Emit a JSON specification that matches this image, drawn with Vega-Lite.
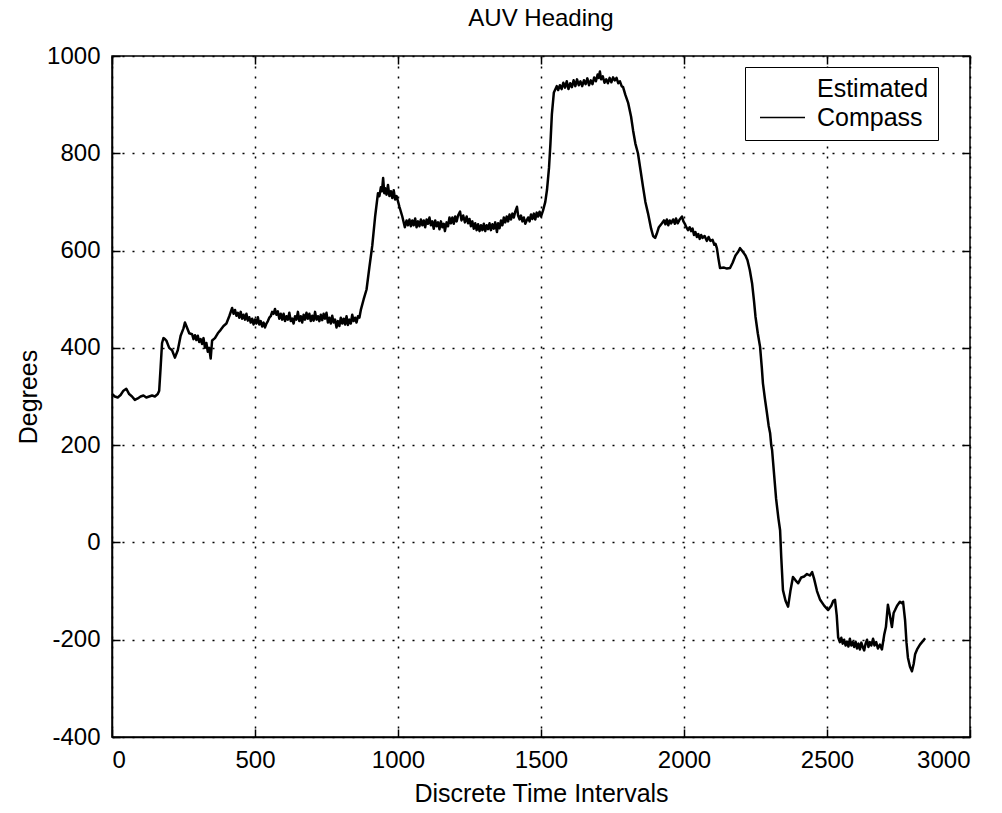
{
  "$schema": "https://vega.github.io/schema/vega-lite/v6.json",
  "width": 858,
  "height": 681,
  "autosize": {"type": "none"},
  "padding": {"left": 112, "top": 56, "right": 32, "bottom": 76},
  "background": "white",
  "config": {
    "font": "Liberation Sans",
    "view": {"stroke": "black", "strokeWidth": 1.5},
    "axis": {"labelFont": "Liberation Sans", "titleFont": "Liberation Sans", "labelColor": "black", "titleColor": "black", "titleFontWeight": "normal"}
  },
  "title": {"text": "AUV Heading", "fontSize": 24, "fontWeight": "normal", "color": "black", "offset": 13, "anchor": "middle"},
  "data": {"values": [
    {"t":0,"deg":305},{"t":10,"deg":300},{"t":20,"deg":298},{"t":30,"deg":303},{"t":40,"deg":312},{"t":50,"deg":316},{"t":60,"deg":305},{"t":70,"deg":300},{"t":80,"deg":293},{"t":90,"deg":296},{"t":100,"deg":300},{"t":110,"deg":302},{"t":120,"deg":298},{"t":130,"deg":300},{"t":140,"deg":302},{"t":150,"deg":300},{"t":160,"deg":305},{"t":165,"deg":312},
    {"t":170,"deg":360},{"t":175,"deg":410},{"t":180,"deg":420},{"t":185,"deg":418},{"t":190,"deg":415},{"t":200,"deg":400},{"t":210,"deg":395},{"t":220,"deg":380},{"t":230,"deg":395},{"t":240,"deg":425},{"t":250,"deg":440},{"t":255,"deg":452},{"t":260,"deg":445},{"t":270,"deg":430},{"t":280,"deg":428},{"t":285,"deg":418},{"t":290,"deg":426},{"t":295,"deg":416},{"t":300,"deg":425},{"t":305,"deg":412},{"t":310,"deg":418},{"t":315,"deg":408},{"t":320,"deg":420},{"t":325,"deg":400},{"t":330,"deg":410},{"t":335,"deg":392},{"t":340,"deg":400},{"t":345,"deg":378},{"t":350,"deg":415},{"t":360,"deg":420},{"t":370,"deg":430},{"t":380,"deg":437},{"t":390,"deg":445},{"t":400,"deg":450},{"t":410,"deg":465},
    {"t":420,"deg":482},{"t":425,"deg":470},{"t":430,"deg":478},{"t":435,"deg":466},{"t":440,"deg":472},{"t":445,"deg":462},{"t":450,"deg":474},{"t":455,"deg":460},{"t":460,"deg":468},{"t":465,"deg":458},{"t":470,"deg":470},{"t":475,"deg":456},{"t":480,"deg":463},{"t":485,"deg":452},{"t":490,"deg":460},{"t":495,"deg":448},{"t":500,"deg":458},{"t":505,"deg":450},{"t":510,"deg":463},{"t":515,"deg":448},{"t":520,"deg":455},{"t":525,"deg":444},{"t":530,"deg":452},{"t":535,"deg":442},{"t":540,"deg":450},{"t":545,"deg":455},{"t":550,"deg":462},{"t":555,"deg":465},{"t":560,"deg":474},{"t":565,"deg":470},{"t":570,"deg":480},{"t":575,"deg":468},{"t":580,"deg":475},{"t":585,"deg":460},{"t":590,"deg":470},{"t":595,"deg":458},{"t":600,"deg":470},{"t":605,"deg":455},{"t":610,"deg":465},{"t":615,"deg":458},{"t":620,"deg":472},{"t":625,"deg":455},{"t":630,"deg":460},{"t":635,"deg":450},{"t":640,"deg":465},{"t":645,"deg":458},{"t":650,"deg":474},{"t":655,"deg":455},{"t":660,"deg":465},{"t":665,"deg":452},{"t":670,"deg":468},{"t":675,"deg":458},{"t":680,"deg":472},{"t":685,"deg":460},{"t":690,"deg":470},{"t":695,"deg":455},{"t":700,"deg":466},{"t":705,"deg":456},{"t":710,"deg":474},{"t":715,"deg":458},{"t":720,"deg":465},{"t":725,"deg":455},{"t":730,"deg":468},{"t":735,"deg":457},{"t":740,"deg":470},{"t":745,"deg":460},{"t":750,"deg":472},{"t":755,"deg":452},{"t":760,"deg":462},{"t":765,"deg":450},{"t":770,"deg":466},{"t":775,"deg":452},{"t":780,"deg":458},{"t":785,"deg":442},{"t":790,"deg":455},{"t":795,"deg":445},{"t":800,"deg":462},{"t":805,"deg":450},{"t":810,"deg":460},{"t":815,"deg":448},{"t":820,"deg":465},{"t":825,"deg":447},{"t":830,"deg":458},{"t":835,"deg":450},{"t":840,"deg":468},{"t":845,"deg":455},{"t":850,"deg":462},{"t":855,"deg":452},{"t":860,"deg":465},{"t":865,"deg":462},{"t":870,"deg":478},
    {"t":880,"deg":500},{"t":890,"deg":520},{"t":900,"deg":566},{"t":910,"deg":610},{"t":920,"deg":670},{"t":930,"deg":718},{"t":935,"deg":712},{"t":940,"deg":730},{"t":944,"deg":722},{"t":948,"deg":749},{"t":952,"deg":718},{"t":955,"deg":728},{"t":960,"deg":715},{"t":965,"deg":735},{"t":970,"deg":712},{"t":975,"deg":722},{"t":980,"deg":708},{"t":985,"deg":724},{"t":990,"deg":705},{"t":995,"deg":712},{"t":1005,"deg":690},{"t":1015,"deg":670},
    {"t":1024,"deg":648},{"t":1030,"deg":662},{"t":1035,"deg":652},{"t":1040,"deg":664},{"t":1045,"deg":650},{"t":1050,"deg":662},{"t":1055,"deg":652},{"t":1060,"deg":666},{"t":1065,"deg":648},{"t":1070,"deg":660},{"t":1075,"deg":650},{"t":1080,"deg":664},{"t":1085,"deg":652},{"t":1090,"deg":662},{"t":1095,"deg":648},{"t":1100,"deg":664},{"t":1105,"deg":655},{"t":1110,"deg":668},{"t":1115,"deg":652},{"t":1120,"deg":660},{"t":1125,"deg":645},{"t":1130,"deg":662},{"t":1135,"deg":650},{"t":1140,"deg":658},{"t":1145,"deg":644},{"t":1150,"deg":660},{"t":1155,"deg":648},{"t":1160,"deg":655},{"t":1164,"deg":640},{"t":1170,"deg":658},{"t":1175,"deg":650},{"t":1180,"deg":668},{"t":1185,"deg":656},{"t":1190,"deg":668},{"t":1195,"deg":655},{"t":1200,"deg":670},{"t":1205,"deg":660},{"t":1210,"deg":672},{"t":1217,"deg":680},{"t":1222,"deg":662},{"t":1228,"deg":672},{"t":1234,"deg":658},{"t":1240,"deg":670},{"t":1245,"deg":656},{"t":1250,"deg":665},{"t":1255,"deg":650},{"t":1260,"deg":660},{"t":1265,"deg":645},{"t":1270,"deg":656},{"t":1275,"deg":642},{"t":1280,"deg":654},{"t":1285,"deg":640},{"t":1290,"deg":652},{"t":1295,"deg":642},{"t":1300,"deg":655},{"t":1305,"deg":640},{"t":1310,"deg":652},{"t":1315,"deg":644},{"t":1320,"deg":656},{"t":1325,"deg":642},{"t":1330,"deg":654},{"t":1335,"deg":645},{"t":1340,"deg":658},{"t":1346,"deg":638},{"t":1350,"deg":656},{"t":1355,"deg":646},{"t":1360,"deg":662},{"t":1365,"deg":652},{"t":1370,"deg":668},{"t":1375,"deg":658},{"t":1380,"deg":670},{"t":1385,"deg":660},{"t":1390,"deg":674},{"t":1395,"deg":664},{"t":1400,"deg":676},{"t":1405,"deg":668},{"t":1410,"deg":680},{"t":1416,"deg":690},{"t":1420,"deg":672},{"t":1425,"deg":664},{"t":1430,"deg":672},{"t":1435,"deg":660},{"t":1440,"deg":668},{"t":1445,"deg":655},{"t":1450,"deg":662},{"t":1455,"deg":668},{"t":1460,"deg":660},{"t":1465,"deg":674},{"t":1470,"deg":665},{"t":1475,"deg":676},{"t":1480,"deg":664},{"t":1485,"deg":678},{"t":1490,"deg":670},{"t":1495,"deg":680},{"t":1500,"deg":670},{"t":1507,"deg":682},
    {"t":1515,"deg":700},{"t":1521,"deg":725},{"t":1528,"deg":770},{"t":1533,"deg":820},{"t":1538,"deg":880},{"t":1545,"deg":925},
    {"t":1555,"deg":938},{"t":1560,"deg":930},{"t":1566,"deg":940},{"t":1572,"deg":932},{"t":1578,"deg":945},{"t":1584,"deg":935},{"t":1590,"deg":948},{"t":1596,"deg":932},{"t":1602,"deg":944},{"t":1608,"deg":936},{"t":1614,"deg":950},{"t":1620,"deg":938},{"t":1626,"deg":952},{"t":1632,"deg":940},{"t":1638,"deg":948},{"t":1644,"deg":938},{"t":1650,"deg":950},{"t":1656,"deg":942},{"t":1662,"deg":954},{"t":1668,"deg":940},{"t":1674,"deg":950},{"t":1680,"deg":942},{"t":1686,"deg":956},{"t":1692,"deg":948},{"t":1698,"deg":962},{"t":1702,"deg":955},{"t":1706,"deg":968},{"t":1710,"deg":952},{"t":1716,"deg":958},{"t":1722,"deg":945},{"t":1728,"deg":952},{"t":1734,"deg":944},{"t":1740,"deg":955},{"t":1746,"deg":946},{"t":1752,"deg":956},{"t":1758,"deg":950},{"t":1764,"deg":955},{"t":1770,"deg":944},{"t":1776,"deg":948},{"t":1782,"deg":938},{"t":1787,"deg":936},
    {"t":1795,"deg":920},{"t":1805,"deg":903},{"t":1815,"deg":875},{"t":1822,"deg":847},{"t":1830,"deg":820},{"t":1839,"deg":800},{"t":1848,"deg":765},{"t":1857,"deg":730},{"t":1865,"deg":700},{"t":1874,"deg":677},{"t":1885,"deg":645},{"t":1892,"deg":630},{"t":1899,"deg":626},{"t":1905,"deg":635},{"t":1912,"deg":648},
    {"t":1923,"deg":656},{"t":1930,"deg":662},{"t":1935,"deg":654},{"t":1940,"deg":664},{"t":1945,"deg":652},{"t":1950,"deg":662},{"t":1955,"deg":656},{"t":1962,"deg":664},{"t":1968,"deg":655},{"t":1972,"deg":666},{"t":1978,"deg":656},{"t":1985,"deg":664},{"t":1993,"deg":670},{"t":1998,"deg":660},{"t":2003,"deg":655},{"t":2008,"deg":648},{"t":2014,"deg":642},{"t":2020,"deg":648},{"t":2025,"deg":640},{"t":2030,"deg":645},{"t":2035,"deg":632},{"t":2040,"deg":638},{"t":2045,"deg":628},{"t":2050,"deg":634},{"t":2055,"deg":624},{"t":2060,"deg":632},{"t":2065,"deg":626},{"t":2072,"deg":630},{"t":2080,"deg":620},{"t":2086,"deg":628},{"t":2092,"deg":620},{"t":2100,"deg":622},{"t":2106,"deg":612},{"t":2110,"deg":614},{"t":2115,"deg":605},
    {"t":2120,"deg":585},{"t":2126,"deg":564},{"t":2140,"deg":565},{"t":2150,"deg":563},{"t":2161,"deg":564},{"t":2170,"deg":575},{"t":2180,"deg":590},{"t":2190,"deg":598},{"t":2196,"deg":605},{"t":2205,"deg":598},{"t":2215,"deg":590},{"t":2222,"deg":580},{"t":2230,"deg":560},{"t":2238,"deg":533},{"t":2245,"deg":495},{"t":2250,"deg":464},{"t":2258,"deg":430},{"t":2266,"deg":402},{"t":2272,"deg":360},{"t":2276,"deg":327},{"t":2283,"deg":295},{"t":2290,"deg":266},{"t":2296,"deg":240},{"t":2301,"deg":225},{"t":2305,"deg":200},{"t":2308,"deg":190},{"t":2315,"deg":140},{"t":2322,"deg":90},{"t":2330,"deg":50},{"t":2336,"deg":25},{"t":2340,"deg":-30},{"t":2346,"deg":-98},{"t":2355,"deg":-120},{"t":2364,"deg":-132},{"t":2372,"deg":-100},{"t":2381,"deg":-71},{"t":2390,"deg":-78},{"t":2399,"deg":-84},{"t":2410,"deg":-72},{"t":2420,"deg":-70},{"t":2430,"deg":-65},{"t":2440,"deg":-68},{"t":2448,"deg":-61},{"t":2455,"deg":-75},{"t":2465,"deg":-100},{"t":2476,"deg":-118},{"t":2490,"deg":-130},{"t":2504,"deg":-139},{"t":2515,"deg":-130},{"t":2522,"deg":-120},{"t":2528,"deg":-118},{"t":2534,"deg":-150},
    {"t":2539,"deg":-195},{"t":2545,"deg":-205},{"t":2550,"deg":-196},{"t":2555,"deg":-208},{"t":2560,"deg":-200},{"t":2565,"deg":-212},{"t":2570,"deg":-204},{"t":2575,"deg":-214},{"t":2580,"deg":-198},{"t":2585,"deg":-212},{"t":2590,"deg":-205},{"t":2595,"deg":-215},{"t":2600,"deg":-204},{"t":2605,"deg":-218},{"t":2610,"deg":-208},{"t":2615,"deg":-220},{"t":2620,"deg":-206},{"t":2625,"deg":-215},{"t":2630,"deg":-222},{"t":2635,"deg":-208},{"t":2640,"deg":-200},{"t":2645,"deg":-215},{"t":2650,"deg":-205},{"t":2655,"deg":-212},{"t":2661,"deg":-198},{"t":2666,"deg":-212},{"t":2672,"deg":-205},{"t":2678,"deg":-218},{"t":2685,"deg":-210},{"t":2692,"deg":-220},
    {"t":2700,"deg":-190},{"t":2706,"deg":-174},{"t":2713,"deg":-128},{"t":2720,"deg":-150},{"t":2727,"deg":-174},{"t":2733,"deg":-145},{"t":2738,"deg":-139},{"t":2745,"deg":-130},{"t":2755,"deg":-122},{"t":2762,"deg":-125},{"t":2766,"deg":-122},{"t":2773,"deg":-160},{"t":2778,"deg":-206},{"t":2783,"deg":-237},{"t":2790,"deg":-255},{"t":2797,"deg":-265},{"t":2803,"deg":-250},{"t":2808,"deg":-230},{"t":2815,"deg":-220},{"t":2825,"deg":-210},{"t":2835,"deg":-203},{"t":2843,"deg":-197}
  ]},
  "layer": [
    {
      "mark": {"type": "line", "strokeWidth": 2.5, "strokeJoin": "round"},
      "encoding": {
        "x": {"field": "t", "type": "quantitative", "scale": {"domain": [0, 3000], "nice": false},
              "axis": {"title": "Discrete Time Intervals", "values": [0,500,1000,1500,2000,2500,3000], "labelExpr": "'' + datum.value", "labelFontSize": 24, "titleFontSize": 25, "titlePadding": 9,
                       "domainColor": "black", "domainWidth": 1.5, "tickColor": "black", "tickSize": -8, "tickWidth": 1.5, "labelPadding": 19,
                       "grid": true, "gridColor": "black", "gridDash": [2, 8], "gridWidth": 1.5, "gridOpacity": 1}},
        "y": {"field": "deg", "type": "quantitative", "scale": {"domain": [-400, 1000], "nice": false, "zero": false},
              "axis": {"title": "Degrees", "values": [-400,-200,0,200,400,600,800,1000], "labelExpr": "'' + datum.value", "labelFontSize": 24, "titleFontSize": 25, "titlePadding": 5,
                       "domainColor": "black", "domainWidth": 1.5, "tickColor": "black", "tickSize": -8, "tickWidth": 1.5, "labelPadding": 20,
                       "grid": true, "gridColor": "black", "gridDash": [2, 8], "gridWidth": 1.5, "gridOpacity": 1}},
        "color": {"datum": "Compass", "type": "nominal",
                  "scale": {"domain": ["Estimated", "Compass"], "range": ["white", "black"]},
                  "legend": {"title": null, "orient": "none", "legendX": 633, "legendY": 11, "fillColor": "white", "strokeColor": "black",
                             "padding": 9, "symbolType": "M-3,0H3", "symbolSize": 225, "symbolOffset": 16, "symbolStrokeWidth": 1.5,
                             "labelFontSize": 25, "labelColor": "black", "labelOffset": 22, "rowPadding": 3}}
      }
    },
    {
      "mark": {"type": "line", "strokeOpacity": 0},
      "encoding": {
        "x": {"field": "t", "type": "quantitative",
              "axis": {"orient": "top", "title": null, "labels": false, "values": [0,500,1000,1500,2000,2500,3000], "grid": false, "domain": false, "tickColor": "black", "tickSize": -8, "tickWidth": 1.5}},
        "y": {"field": "deg", "type": "quantitative",
              "axis": {"orient": "right", "title": null, "labels": false, "values": [-400,-200,0,200,400,600,800,1000], "grid": false, "domain": false, "tickColor": "black", "tickSize": -8, "tickWidth": 1.5}}
      }
    }
  ],
  "resolve": {"axis": {"x": "independent", "y": "independent"}}
}
